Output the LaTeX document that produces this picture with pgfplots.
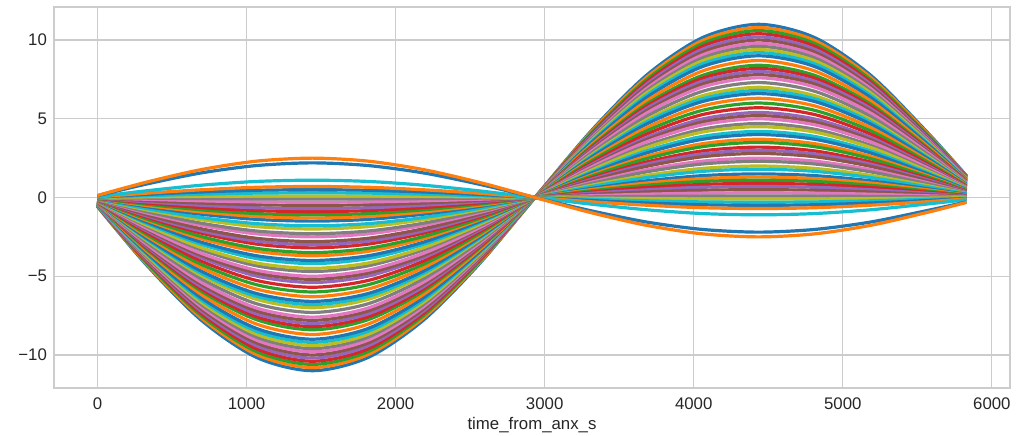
\documentclass[border=0pt]{standalone}
\usepackage{fontspec}
\setmainfont{Liberation Sans}
\usepackage{pgfplots}
\usepackage{pgfplotstable}
\pgfplotsset{compat=1.18}
\definecolor{c0}{HTML}{1F77B4}
\definecolor{c1}{HTML}{FF7F0E}
\definecolor{c2}{HTML}{2CA02C}
\definecolor{c3}{HTML}{D62728}
\definecolor{c4}{HTML}{9467BD}
\definecolor{c5}{HTML}{8C564B}
\definecolor{c6}{HTML}{E377C2}
\definecolor{c7}{HTML}{7F7F7F}
\definecolor{c8}{HTML}{BCBD22}
\definecolor{c9}{HTML}{17BECF}
\definecolor{gridc}{HTML}{CCCCCC}
\definecolor{txt}{HTML}{262626}

\pgfplotstableread{
t c1 c2 c3 c4 c5 c6 c7 c8 c9 c10 c11 c12 c13 c14 c15 c16 c17 c18 c19 c20 c21 c22 c23 c24 c25 c26 c27 c28 c29 c30 c31 c32 c33 c34 c35 c36 c37 c38 c39 c40 c41 c42 c43 c44 c45 c46 c47 c48 c49 c50 c51 c52 c53 c54 c55
0 -0.57 -0.56 -0.55 -0.54 -0.53 -0.52 -0.51 -0.50 -0.49 -0.48 -0.47 -0.45 -0.44 -0.43 -0.42 -0.41 -0.40 -0.38 -0.36 -0.35 -0.34 -0.33 -0.31 -0.30 -0.28 -0.27 -0.26 -0.24 -0.23 -0.22 -0.21 -0.19 -0.18 -0.17 -0.16 -0.15 -0.13 -0.12 -0.10 -0.09 -0.08 -0.07 -0.06 -0.05 -0.04 -0.03 -0.02 -0.01 0.01 0.02 0.03 0.04 0.06 0.11 0.13
322 -4.21 -4.14 -4.06 -3.98 -3.91 -3.83 -3.75 -3.68 -3.60 -3.52 -3.45 -3.33 -3.22 -3.14 -3.06 -2.99 -2.91 -2.80 -2.68 -2.60 -2.53 -2.41 -2.30 -2.18 -2.07 -1.99 -1.92 -1.80 -1.72 -1.61 -1.53 -1.42 -1.34 -1.23 -1.15 -1.07 -0.96 -0.88 -0.77 -0.69 -0.57 -0.50 -0.42 -0.34 -0.27 -0.19 -0.11 -0.04 0.04 0.11 0.19 0.27 0.42 0.84 0.96
695 -7.78 -7.64 -7.49 -7.35 -7.21 -7.07 -6.93 -6.79 -6.65 -6.50 -6.36 -6.15 -5.94 -5.80 -5.66 -5.51 -5.37 -5.16 -4.95 -4.81 -4.67 -4.45 -4.24 -4.03 -3.82 -3.68 -3.54 -3.32 -3.18 -2.97 -2.83 -2.62 -2.47 -2.26 -2.12 -1.98 -1.77 -1.63 -1.41 -1.27 -1.06 -0.92 -0.78 -0.64 -0.49 -0.35 -0.21 -0.07 0.07 0.21 0.35 0.49 0.78 1.56 1.77
1068 -10.16 -9.98 -9.79 -9.61 -9.42 -9.24 -9.06 -8.87 -8.69 -8.50 -8.32 -8.04 -7.76 -7.58 -7.39 -7.21 -7.02 -6.75 -6.47 -6.28 -6.10 -5.82 -5.54 -5.27 -4.99 -4.80 -4.62 -4.34 -4.16 -3.88 -3.70 -3.42 -3.23 -2.96 -2.77 -2.59 -2.31 -2.13 -1.85 -1.66 -1.39 -1.20 -1.02 -0.83 -0.65 -0.46 -0.28 -0.09 0.09 0.28 0.46 0.65 1.02 2.03 2.31
1442 -11.0 -10.8 -10.6 -10.4 -10.2 -10.0 -9.8 -9.6 -9.4 -9.2 -9.0 -8.7 -8.4 -8.2 -8.0 -7.8 -7.6 -7.3 -7.0 -6.8 -6.6 -6.3 -6.0 -5.7 -5.4 -5.2 -5.0 -4.7 -4.5 -4.2 -4.0 -3.7 -3.5 -3.2 -3.0 -2.8 -2.5 -2.3 -2.0 -1.8 -1.5 -1.3 -1.1 -0.9 -0.7 -0.5 -0.3 -0.1 0.1 0.3 0.5 0.7 1.1 2.2 2.5
1815 -10.16 -9.98 -9.79 -9.61 -9.42 -9.24 -9.06 -8.87 -8.69 -8.50 -8.32 -8.04 -7.76 -7.58 -7.39 -7.21 -7.02 -6.75 -6.47 -6.28 -6.10 -5.82 -5.54 -5.27 -4.99 -4.80 -4.62 -4.34 -4.16 -3.88 -3.70 -3.42 -3.23 -2.96 -2.77 -2.59 -2.31 -2.13 -1.85 -1.66 -1.39 -1.20 -1.02 -0.83 -0.65 -0.46 -0.28 -0.09 0.09 0.28 0.46 0.65 1.02 2.03 2.31
2188 -7.78 -7.64 -7.49 -7.35 -7.21 -7.07 -6.93 -6.79 -6.65 -6.50 -6.36 -6.15 -5.94 -5.80 -5.66 -5.51 -5.37 -5.16 -4.95 -4.81 -4.67 -4.45 -4.24 -4.03 -3.82 -3.68 -3.54 -3.32 -3.18 -2.97 -2.83 -2.62 -2.47 -2.26 -2.12 -1.98 -1.77 -1.63 -1.41 -1.27 -1.06 -0.92 -0.78 -0.64 -0.49 -0.35 -0.21 -0.07 0.07 0.21 0.35 0.49 0.78 1.56 1.77
2562 -4.21 -4.14 -4.06 -3.98 -3.91 -3.83 -3.75 -3.68 -3.60 -3.52 -3.45 -3.33 -3.22 -3.14 -3.06 -2.99 -2.91 -2.80 -2.68 -2.60 -2.53 -2.41 -2.30 -2.18 -2.07 -1.99 -1.92 -1.80 -1.72 -1.61 -1.53 -1.42 -1.34 -1.23 -1.15 -1.07 -0.96 -0.88 -0.77 -0.69 -0.57 -0.50 -0.42 -0.34 -0.27 -0.19 -0.11 -0.04 0.04 0.11 0.19 0.27 0.42 0.84 0.96
2935 0 0 0 0 0 0 0 0 0 0 0 0 0 0 0 0 0 0 0 0 0 0 0 0 0 0 0 0 0 0 0 0 0 0 0 0 0 0 0 0 0 0 0 0 0 0 0 0 0 0 0 0 0 0 0
3310 4.21 4.14 4.06 3.98 3.91 3.83 3.75 3.68 3.60 3.52 3.45 3.33 3.22 3.14 3.06 2.99 2.91 2.80 2.68 2.60 2.53 2.41 2.30 2.18 2.07 1.99 1.92 1.80 1.72 1.61 1.53 1.42 1.34 1.23 1.15 1.07 0.96 0.88 0.77 0.69 0.57 0.50 0.42 0.34 0.27 0.19 0.11 0.04 -0.04 -0.11 -0.19 -0.27 -0.42 -0.84 -0.96
3685 7.78 7.64 7.49 7.35 7.21 7.07 6.93 6.79 6.65 6.50 6.36 6.15 5.94 5.80 5.66 5.51 5.37 5.16 4.95 4.81 4.67 4.45 4.24 4.03 3.82 3.68 3.54 3.32 3.18 2.97 2.83 2.62 2.47 2.26 2.12 1.98 1.77 1.63 1.41 1.27 1.06 0.92 0.78 0.64 0.49 0.35 0.21 0.07 -0.07 -0.21 -0.35 -0.49 -0.78 -1.56 -1.77
4060 10.16 9.98 9.79 9.61 9.42 9.24 9.06 8.87 8.69 8.50 8.32 8.04 7.76 7.58 7.39 7.21 7.02 6.75 6.47 6.28 6.10 5.82 5.54 5.27 4.99 4.80 4.62 4.34 4.16 3.88 3.70 3.42 3.23 2.96 2.77 2.59 2.31 2.13 1.85 1.66 1.39 1.20 1.02 0.83 0.65 0.46 0.28 0.09 -0.09 -0.28 -0.46 -0.65 -1.02 -2.03 -2.31
4435 11.0 10.8 10.6 10.4 10.2 10.0 9.8 9.6 9.4 9.2 9.0 8.7 8.4 8.2 8.0 7.8 7.6 7.3 7.0 6.8 6.6 6.3 6.0 5.7 5.4 5.2 5.0 4.7 4.5 4.2 4.0 3.7 3.5 3.2 3.0 2.8 2.5 2.3 2.0 1.8 1.5 1.3 1.1 0.9 0.7 0.5 0.3 0.1 -0.1 -0.3 -0.5 -0.7 -1.1 -2.2 -2.5
4810 10.16 9.98 9.79 9.61 9.42 9.24 9.06 8.87 8.69 8.50 8.32 8.04 7.76 7.58 7.39 7.21 7.02 6.75 6.47 6.28 6.10 5.82 5.54 5.27 4.99 4.80 4.62 4.34 4.16 3.88 3.70 3.42 3.23 2.96 2.77 2.59 2.31 2.13 1.85 1.66 1.39 1.20 1.02 0.83 0.65 0.46 0.28 0.09 -0.09 -0.28 -0.46 -0.65 -1.02 -2.03 -2.31
5185 7.78 7.64 7.49 7.35 7.21 7.07 6.93 6.79 6.65 6.50 6.36 6.15 5.94 5.80 5.66 5.51 5.37 5.16 4.95 4.81 4.67 4.45 4.24 4.03 3.82 3.68 3.54 3.32 3.18 2.97 2.83 2.62 2.47 2.26 2.12 1.98 1.77 1.63 1.41 1.27 1.06 0.92 0.78 0.64 0.49 0.35 0.21 0.07 -0.07 -0.21 -0.35 -0.49 -0.78 -1.56 -1.77
5560 4.21 4.14 4.06 3.98 3.91 3.83 3.75 3.68 3.60 3.52 3.45 3.33 3.22 3.14 3.06 2.99 2.91 2.80 2.68 2.60 2.53 2.41 2.30 2.18 2.07 1.99 1.92 1.80 1.72 1.61 1.53 1.42 1.34 1.23 1.15 1.07 0.96 0.88 0.77 0.69 0.57 0.50 0.42 0.34 0.27 0.19 0.11 0.04 -0.04 -0.11 -0.19 -0.27 -0.42 -0.84 -0.96
5830 1.38 1.35 1.33 1.30 1.28 1.25 1.23 1.20 1.18 1.15 1.13 1.09 1.05 1.03 1.00 0.98 0.95 0.91 0.88 0.85 0.83 0.79 0.75 0.71 0.68 0.65 0.63 0.59 0.56 0.53 0.50 0.46 0.44 0.40 0.38 0.35 0.31 0.29 0.25 0.23 0.19 0.16 0.14 0.11 0.09 0.06 0.04 0.01 -0.01 -0.04 -0.06 -0.09 -0.14 -0.28 -0.31
}\data

\begin{document}
\begin{tikzpicture}
\begin{axis}[
  scale only axis, width=478pt, height=190.5pt,
  xmin=-291.5, xmax=6121.5, ymin=-12.1, ymax=12.1,
  xtick={0,1000,2000,3000,4000,5000,6000},
  xticklabels={0,1000,2000,3000,4000,5000,6000},
  ytick={-10,-5,0,5,10},
  yticklabels={−10,−5,0,5,10},
  grid=major,
  major grid style={draw=gridc, line width=0.6pt},
  axis line style={draw=gridc, line width=0.8pt},
  major tick length=0pt, tick style={draw=none},
  tick label style={font=\fontsize{8.4}{10}\selectfont, text=txt},
  xticklabel style={yshift=-1.2pt},
  xlabel={time\_from\_anx\_s},
  xlabel style={font=\fontsize{8.4}{10}\selectfont, text=txt, yshift=3pt},
  cycle list={{c0},{c1},{c2},{c3},{c4},{c5},{c6},{c7},{c8},{c9}},
  every axis plot/.append style={line width=1.6pt, smooth, no markers, line join=round},
]
\pgfplotsinvokeforeach{1,...,52}{\addplot table[x=t,y=c#1]{\data};}
\addplot[c9] table[x=t,y=c53]{\data};
\addplot[c0] table[x=t,y=c54]{\data};
\addplot[c1] table[x=t,y=c55]{\data};
\end{axis}
\pgfresetboundingbox
\path ([xshift=-27pt,yshift=-23.5pt]current axis.south west) rectangle ([xshift=4pt,yshift=3.5pt]current axis.north east);
\end{tikzpicture}
\end{document}
